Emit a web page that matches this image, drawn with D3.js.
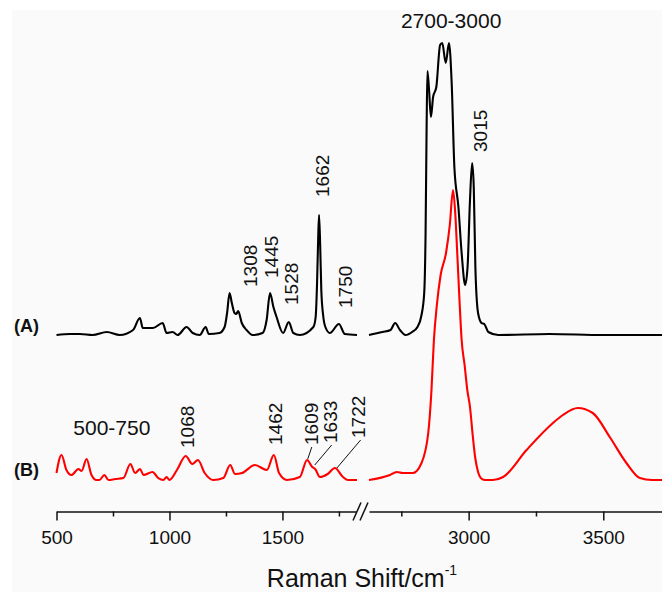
<!DOCTYPE html>
<html>
<head>
<meta charset="utf-8">
<script src="https://cdn.jsdelivr.net/npm/d3@7"></script>
<style>
  body { margin: 0; background: #fff; }
  svg { display: block; }
  text { font-family: "Liberation Sans", Arial, sans-serif; fill: #111; }
</style>
</head>
<body>
<div id="chart"></div>
<script>
// spectrum (A), low-wavenumber part
const waveA1 = [500, 560, 604, 660, 723, 780, 839, 869, 882, 927, 970, 987, 1014, 1036, 1076, 1103, 1134, 1160, 1174, 1221, 1244, 1255, 1266, 1276, 1288, 1296, 1304, 1320, 1341, 1368, 1412, 1430, 1445, 1460, 1474, 1503, 1528, 1548, 1577, 1637, 1647, 1653, 1658, 1662, 1667, 1672, 1680, 1690, 1710, 1750, 1776, 1830]
const intA1 = [0, 1, 1, 0, 3, 0, 5, 17, 7, 7, 12, 2, 3, 0, 8, 2, 0, 8, 1, 2, 8, 22, 42, 32, 22, 21, 24, 12, 5, 0, 2, 15, 42, 28, 18, 2, 13, 2, 0, 8, 18, 50, 95, 120, 90, 45, 20, 8, 2, 11, 1, 0]
// spectrum (A), high-wavenumber part
const waveA2 = [2630, 2680, 2710, 2727, 2745, 2766, 2790, 2810, 2825, 2835, 2840, 2844, 2847, 2853, 2860, 2868, 2880, 2894, 2902, 2915, 2927, 2937, 2947, 2962, 2974, 2987, 2996, 3005, 3013, 3019, 3025, 3035, 3048, 3058, 3073, 3110, 3300, 3500, 3718]
const intA2 = [0, 3, 5, 12, 5, 0, 3, 8, 20, 42, 100, 210, 264, 245, 218, 238, 248, 290, 292, 272, 292, 252, 168, 128, 82, 50, 68, 135, 172, 148, 68, 22, 12, 11, 3, 0, 1, 0, 0]

// spectrum (B), low-wavenumber part
const waveB1 = [500, 522, 544, 566, 597, 611, 633, 655, 677, 690, 712, 730, 760, 796, 827, 848, 870, 885, 925, 950, 973, 987, 1000, 1033, 1072, 1101, 1126, 1156, 1194, 1238, 1269, 1290, 1321, 1378, 1431, 1462, 1485, 1520, 1577, 1609, 1632, 1645, 1666, 1700, 1732, 1768, 1790, 1830]
const intB1 = [7, 25, 10, 5, 11, 9, 21, 5, 0, 0, 5, 0, 1, 2, 16, 7, 11, 5, 8, 2, 0, 3, 0, 10, 24, 16, 20, 7, 0, 2, 15, 6, 7, 15, 10, 25, 7, 0, 3, 20, 13, 11, 3, 6, 12, 3, 0, 0]
// spectrum (B), high-wavenumber part
const waveB2 = [2630, 2708, 2733, 2756, 2793, 2825, 2850, 2862, 2871, 2882, 2896, 2916, 2930, 2942, 2950, 2958, 2966, 2974, 2985, 2995, 3005, 3015, 3024, 3035, 3045, 3060, 3090, 3128, 3215, 3313, 3350, 3405, 3461, 3524, 3586, 3636, 3680, 3718]
const intB2 = [0, 5, 8, 7, 7, 17, 47, 90, 140, 175, 205, 227, 255, 290, 268, 225, 180, 140, 115, 90, 73, 45, 23, 8, 2, 0, 0, 3, 30, 57, 65, 72, 67, 43, 17, 2, 0, 0]

const offsetA = 145

// axis ticks
const majorLeft = [500, 1000, 1500]
const minorLeft = [750, 1250, 1750]
const majorRight = [3000, 3500]
const minorRight = [2750, 3250]

// peak annotations: text, anchor wavenumber, level where text starts
const labelsA = ["1308", "1445", "1528", "1662", "1750", "3015"]
const labelXA = [1356, 1453, 1538, 1675, 1777, 3042]
const labelYA = [193, 202, 175, 283, 172, 328]
const labelsB = ["1068", "1462", "1609", "1633", "1722"]
const labelXB = [1077, 1467, 1630, 1710, 1834]
const labelYB = [32, 35, 35, 37, 42]
// leader lines for crowded B labels [x1, y1, x2, y2]
const leaders = [[1630, 33, 1612, 21], [1718, 35, 1643, 15], [1846, 40, 1741, 12]]

const width = 662
const height = 592

const svg = d3.select("#chart")
  .append("svg")
    .attr("width", width)
    .attr("height", height)

svg.append("rect")
    .attr("x", 12)
    .attr("y", 10)
    .attr("width", width - 12)
    .attr("height", height - 10)
    .attr("fill", "#fafafa")

const xLeft = d3.scaleLinear().domain([500, 1830]).range([56.5, 357])
const xRight = d3.scaleLinear().domain([2630, 3718]).range([369, 662])
const y = d3.scaleLinear().domain([-20, 460]).range([500, 20])
const axisY = 511.5

function xOf(w) {
  return w < 2200 ? xLeft(w) : xRight(w)
}

function drawSpec(waves, vals, scale, offset, color) {
  const pts = waves.map((w, i) => [w, vals[i] + offset])
  svg.append("path")
      .datum(pts)
      .attr("fill", "none")
      .attr("stroke", color)
      .attr("stroke-width", 2.1)
      .attr("stroke-linejoin", "round")
      .attr("d", d3.line()
        .x(d => scale(d[0]))
        .y(d => y(d[1]))
        .curve(d3.curveMonotoneX))
}

drawSpec(waveA1, intA1, xLeft, offsetA, "#000")
drawSpec(waveA2, intA2, xRight, offsetA, "#000")
drawSpec(waveB1, intB1, xLeft, 0, "#ff0000")
drawSpec(waveB2, intB2, xRight, 0, "#ff0000")

// axes
function drawAxis(scale, major, minor) {
  const g = svg.append("g").attr("transform", `translate(0,${axisY})`)
  g.call(d3.axisBottom(scale).tickValues(major).tickSize(9).tickSizeOuter(0).tickPadding(10).tickFormat(d3.format("d")))
  const m = svg.append("g").attr("transform", `translate(0,${axisY})`)
  m.call(d3.axisBottom(scale).tickValues(minor).tickSize(5).tickSizeOuter(0).tickFormat(""))
  m.select(".domain").remove()
  svg.selectAll("g .domain, g .tick line")
    .attr("stroke", "#111")
    .attr("stroke-width", 1.5)
  g.selectAll("text")
    .attr("font-size", 19)
    .attr("font-family", "Liberation Sans, Arial, sans-serif")
    .attr("fill", "#111")
}
drawAxis(xLeft, majorLeft, minorLeft)
drawAxis(xRight, majorRight, minorRight)

// break marks
const brk = svg.append("g")
brk.append("rect")
    .attr("x", xLeft.range()[1])
    .attr("y", axisY - 2)
    .attr("width", xRight.range()[0] - xLeft.range()[1])
    .attr("height", 4)
    .attr("fill", "#fafafa")
;[357, 364].forEach(cx => {
  brk.append("line")
      .attr("x1", cx - 4).attr("y1", axisY + 9)
      .attr("x2", cx + 4).attr("y2", axisY - 9)
      .attr("stroke", "#111")
      .attr("stroke-width", 1.5)
})

// axis title
const title = svg.append("text")
    .attr("x", 362)
    .attr("y", 587)
    .attr("text-anchor", "middle")
    .attr("font-size", 25)
title.append("tspan").text("Raman Shift/cm")
title.append("tspan").text("-1").attr("font-size", 14).attr("dy", -12)

// rotated peak labels
function peakLabels(texts, xs, ys, offset) {
  svg.selectAll(null)
    .data(texts)
    .enter()
    .append("text")
      .attr("transform", (d, i) => `translate(${xOf(xs[i])},${y(ys[i] + offset)}) rotate(-90)`)
      .attr("dy", "0.35em")
      .attr("font-size", 19)
      .text(d => d)
}
peakLabels(labelsA, labelXA, labelYA, 0)
peakLabels(labelsB, labelXB, labelYB, 0)

svg.selectAll(null)
  .data(leaders)
  .enter()
  .append("line")
    .attr("x1", d => xOf(d[0]))
    .attr("y1", d => y(d[1]))
    .attr("x2", d => xOf(d[2]))
    .attr("y2", d => y(d[3]))
    .attr("stroke", "#111")
    .attr("stroke-width", 1)

// range labels
svg.append("text")
    .attr("x", xRight(2935))
    .attr("y", y(452))
    .attr("text-anchor", "middle")
    .attr("font-size", 21)
    .text("2700-3000")
svg.append("text")
    .attr("x", xLeft(745))
    .attr("y", y(45))
    .attr("text-anchor", "middle")
    .attr("font-size", 21)
    .text("500-750")

// spectrum names
svg.append("text")
    .attr("x", 14)
    .attr("y", y(offsetA + 3))
    .attr("font-size", 18)
    .attr("font-weight", "bold")
    .text("(A)")
svg.append("text")
    .attr("x", 14)
    .attr("y", y(4))
    .attr("font-size", 18)
    .attr("font-weight", "bold")
    .text("(B)")
</script>
</body>
</html>
